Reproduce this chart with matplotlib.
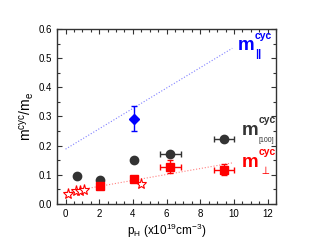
import matplotlib
matplotlib.use("Agg")
import matplotlib.pyplot as plt
from matplotlib.ticker import MultipleLocator, FormatStrFormatter

plt.rcParams["font.family"] = ["Liberation Sans", "DejaVu Sans"]
plt.rcParams["mathtext.fontset"] = "custom"
plt.rcParams["mathtext.rm"] = "Liberation Sans"
plt.rcParams["mathtext.it"] = "Liberation Sans"
plt.rcParams["mathtext.bf"] = "Liberation Sans:bold"

# m_parallel (blue diamond) and its guide line
par_x = [4.05]
par_y = [0.293]
par_yerr = [0.042]
par_line_x = [0.0, 9.9]
par_line_y = [0.188, 0.534]

# m_[100] (dark grey circles)
m100_x = [0.70, 2.06, 4.07, 6.23, 9.42]
m100_y = [0.096, 0.082, 0.150, 0.171, 0.223]
m100_xerr = [0, 0, 0, 0.6, 0.6]

# m_perp (red squares, open stars) and its guide line
perp_x = [2.06, 4.07, 6.23, 9.42]
perp_y = [0.063, 0.086, 0.128, 0.118]
perp_xerr = [0, 0, 0.6, 0.6]
perp_yerr = [0, 0, 0.022, 0.018]
star_x = [0.14, 0.6, 0.85, 1.1, 4.46]
star_y = [0.033, 0.046, 0.044, 0.048, 0.070]
perp_line_x = [0.0, 9.92]
perp_line_y = [0.040, 0.141]

BLUE = "#0000ff"
GREY = "#333333"
RED = "#ff0000"

fig = plt.figure(figsize=(3.21, 2.46), dpi=100)
ax = fig.add_axes([0.178, 0.171, 0.682, 0.711])

ax.plot(par_line_x, par_line_y, ls=":", lw=0.8, color="#8080ff")
ax.plot(perp_line_x, perp_line_y, ls=":", lw=0.8, color="#ff8080")

ax.errorbar(par_x, par_y, yerr=par_yerr, fmt="D", ms=5, color=BLUE,
            ecolor=BLUE, elinewidth=1, capsize=2.5, capthick=1)
ax.errorbar(m100_x, m100_y, xerr=m100_xerr, fmt="o", ms=6, color=GREY,
            ecolor=GREY, elinewidth=1, capsize=2, capthick=1)
ax.errorbar(perp_x, perp_y, xerr=perp_xerr, yerr=perp_yerr, fmt="s", ms=5.5,
            color=RED, ecolor=RED, elinewidth=1, capsize=2, capthick=1)
ax.plot(star_x, star_y, ls="none", marker="*", ms=8, mfc="white",
        mec=RED, mew=0.8)


def mass_label(x, y, sub, color, sub_size, sub_weight, sub_dx):
    # big bold "m", small bold "cyc" above, subscript below
    ax.text(x, y, "m", color=color, fontsize=13.5, fontweight="bold", va="baseline")
    ax.annotate("cyc", (x, y), xytext=(12.5, 8.5), textcoords="offset points",
                color=color, fontsize=7.5, fontweight="bold", va="baseline")
    ax.annotate(sub, (x, y), xytext=(sub_dx, -5), textcoords="offset points",
                color=color, fontsize=sub_size, fontweight=sub_weight, va="baseline")


mass_label(10.2, 0.527, "||", BLUE, 8, "bold", 12.5)
mass_label(10.45, 0.236, "[100]", GREY, 5, "normal", 12.5)
mass_label(10.45, 0.127, r"$\perp$", RED, 8, "normal", 13)

ax.set_xlim(-0.5, 12.5)
ax.set_ylim(0, 0.6)
ax.xaxis.set_major_locator(MultipleLocator(2))
ax.xaxis.set_minor_locator(MultipleLocator(0.5))
ax.yaxis.set_major_locator(MultipleLocator(0.1))
ax.yaxis.set_minor_locator(MultipleLocator(0.05))
ax.yaxis.set_major_formatter(FormatStrFormatter("%.1f"))
ax.tick_params(which="both", direction="in", top=True, right=True,
               labelsize=7, width=0.8, colors="#333333", labelcolor="black")
ax.tick_params(which="major", length=3.5)
ax.tick_params(which="minor", length=2)
for s in ax.spines.values():
    s.set_linewidth(1)
    s.set_color("#333333")

ax.set_xlabel(r"p$_\mathrm{H}$ (x10$^{19}$cm$^{-3}$)", fontsize=8.5, labelpad=2)
ax.set_ylabel(r"m$^\mathrm{cyc}$/m$_\mathrm{e}$", fontsize=10, labelpad=2)

fig.savefig("out.png", dpi=100)
